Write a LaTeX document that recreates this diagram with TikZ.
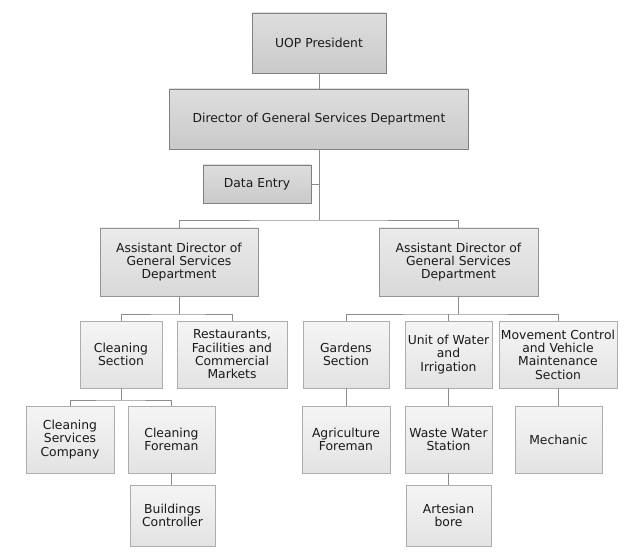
\documentclass[tikz,border=0pt]{standalone}
\usepackage{fontspec}
\setmainfont{DejaVu Sans}
\begin{document}
\begin{tikzpicture}[x=1bp,y=-1bp,
  base/.style={draw, line width=0.8bp, align=center, inner sep=1bp,
    font=\fontsize{12.4}{13.4}\selectfont, text=black!90},
  topbox/.style={base, draw=black!50, top color=black!13, bottom color=black!21},
  midbox/.style={base, draw=black!42, top color=black!8, bottom color=black!15},
  lowbox/.style={base, draw=black!32, top color=black!4, bottom color=black!11},
  conn/.style={draw=black!45, line width=0.9bp}]
\useasboundingbox (0,0) rectangle (643,556);
% level 0-1
\node[topbox, minimum width=134bp, minimum height=60bp] (pres) at (319,43) {UOP President};
\node[topbox, minimum width=299bp, minimum height=60bp] (dir) at (319,119) {Director of General Services Department};
\node[topbox, minimum width=108bp, minimum height=38bp] (data) at (257,184) {Data Entry};
% level 2
\node[midbox, minimum width=158bp, minimum height=68bp] (adl) at (179,262) {Assistant Director of\\General Services\\Department};
\node[midbox, minimum width=159bp, minimum height=68bp] (adr) at (458.5,262) {Assistant Director of\\General Services\\Department};
% level 3
\node[lowbox, minimum width=82bp, minimum height=67bp] (cs) at (121,354.5) {Cleaning\\Section};
\node[lowbox, minimum width=110bp, minimum height=67bp] (rest) at (232,354.5) {Restaurants,\\Facilities and\\Commercial\\Markets};
\node[lowbox, minimum width=86bp, minimum height=67bp] (gard) at (346,354.5) {Gardens\\Section};
\node[lowbox, minimum width=87bp, minimum height=67bp] (unit) at (448.5,354.5) {Unit of Water\\and\\Irrigation};
\node[lowbox, minimum width=118bp, minimum height=67bp] (move) at (558,354.5) {Movement Control\\and Vehicle\\Maintenance\\Section};
% level 4
\node[lowbox, minimum width=88bp, minimum height=67bp] (csc) at (70,439.5) {Cleaning\\Services\\Company};
\node[lowbox, minimum width=87bp, minimum height=67bp] (cf) at (171.5,439.5) {Cleaning\\Foreman};
\node[lowbox, minimum width=88bp, minimum height=67bp] (agf) at (346,439.5) {Agriculture\\Foreman};
\node[lowbox, minimum width=87bp, minimum height=67bp] (wws) at (448.5,439.5) {Waste Water\\Station};
\node[lowbox, minimum width=87bp, minimum height=67bp] (mech) at (558.5,439.5) {Mechanic};
% level 5
\node[lowbox, minimum width=85bp, minimum height=61bp] (bc) at (172.5,515.5) {Buildings\\Controller};
\node[lowbox, minimum width=85bp, minimum height=61bp] (ab) at (448.5,515.5) {Artesian\\bore};
% connectors
\coordinate (b1) at (319,220);
\coordinate (b2) at (179,314);
\coordinate (b3) at (458.5,314);
\coordinate (b4) at (121,400);
\draw[conn] (pres.south) -- (dir.north);
\draw[conn] (dir.south) -- (b1);
\draw[conn] (data.east) -- (data.east -| b1);
\draw[conn] (adl.north) |- (b1) -| (adr.north);
\draw[conn] (adl.south) -- (b2);
\draw[conn] (cs.north) |- (b2) -| (rest.north);
\draw[conn] (adr.south) -- (b3);
\draw[conn] (gard.north) |- (b3) -| (move.north);
\draw[conn] (unit.north) -- (unit.north |- b3);
\draw[conn] (cs.south) -- (b4);
\draw[conn] (csc.north) |- (b4) -| (cf.north);
\draw[conn] (cf.south) -- (cf.south |- bc.north);
\draw[conn] (gard.south) -- (agf.north);
\draw[conn] (unit.south) -- (wws.north);
\draw[conn] (wws.south) -- (ab.north);
\draw[conn] (move.south) -- (move.south |- mech.north);
\end{tikzpicture}
\end{document}
